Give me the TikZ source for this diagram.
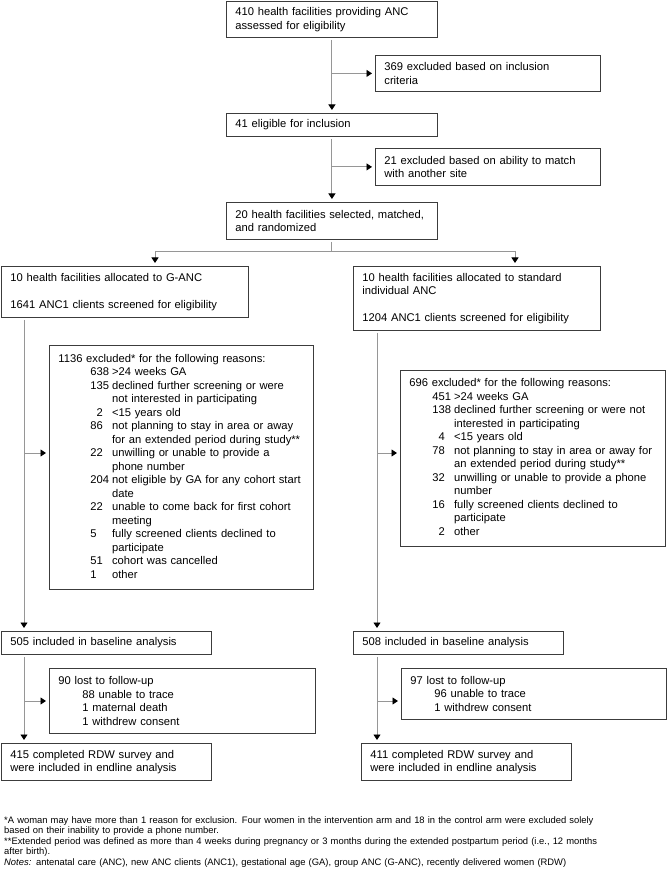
\documentclass[tikz,border=0pt]{standalone}
\usepackage{fontspec}
\setmainfont{Liberation Sans}
\usetikzlibrary{arrows.meta,calc}
\definecolor{BoxLine}{RGB}{60,60,60}
\definecolor{LinkGray}{RGB}{150,150,150}
\tikzset{
  box/.style 2 args={draw=BoxLine,line width=.8pt,anchor=north west,align=left,font=\fontsize{11.2}{13.5}\selectfont,inner xsep=9pt,inner ysep=1pt,minimum width=#1pt,text width=#1pt-18pt,minimum height=#2pt},
  wire/.style={draw=LinkGray,line width=.9pt},
  feed/.style={wire,-{Triangle[length=5.5pt,width=7pt,color=black]},shorten >=3pt},
  note/.style={anchor=north west,align=left,font=\fontsize{9.4}{10.6}\selectfont,inner sep=0pt,text width=664pt}
}
\begin{document}
\begin{tikzpicture}[x=1pt,y=-1pt]
  \useasboundingbox (0,0) rectangle (667,874);
  % facility level
  \node[box={211}{36}] (n410) at (226,1) {410 health facilities providing ANC\\assessed for eligibility};
  \node[box={225}{36}] (n369) at (375,55) {369 excluded based on inclusion\\criteria};
  \node[box={211}{23}] (n41) at (226,113) {41 eligible for inclusion};
  \node[box={225}{37}] (n21) at (375,148) {21 excluded based on ability to match\\with another site};
  \node[box={211}{37}] (n20) at (226,202) {20 health facilities selected, matched,\\and randomized};
  % arms
  \node[box={247}{51}] (nArmL) at (1,266) {10 health facilities allocated to G-ANC\\[13.5pt]1641 ANC1 clients screened for eligibility};
  \node[box={247}{64}] (nArmR) at (353,266) {10 health facilities allocated to standard\\individual ANC\\[13.5pt]1204 ANC1 clients screened for eligibility};
  \node[box={264}{244}] (nExL) at (49,345) {\begin{tabular}{@{\hspace{32pt}}l@{\hspace{3pt}}l@{}}
    \multicolumn{2}{@{}l@{}}{1136 excluded* for the following reasons:}\\
    638 & >24 weeks GA\\
    135 & declined further screening or were\\
        & not interested in participating\\
    \phantom{0}2 & <15 years old\\
    86 & not planning to stay in area or away\\
       & for an extended period during study**\\
    22 & unwilling or unable to provide a\\
       & phone number\\
    204 & not eligible by GA for any cohort start\\
        & date\\
    22 & unable to come back for first cohort\\
       & meeting\\
    5 & fully screened clients declined to\\
      & participate\\
    51 & cohort was cancelled\\
    1 & other
  \end{tabular}};
  \node[box={265}{176}] (nExR) at (400,370) {\begin{tabular}{@{\hspace{23pt}}l@{\hspace{3pt}}l@{}}
    \multicolumn{2}{@{}l@{}}{696 excluded* for the following reasons:}\\
    451 & >24 weeks GA\\
    138 & declined further screening or were not\\
        & interested in participating\\
    \phantom{0}4 & <15 years old\\
    78 & not planning to stay in area or away for\\
       & an extended period during study**\\
    32 & unwilling or unable to provide a phone\\
       & number\\
    16 & fully screened clients declined to\\
       & participate\\
    \phantom{0}2 & other
  \end{tabular}};
  % analysis
  \node[box={210}{23}] (nBaseL) at (1,631) {505 included in baseline analysis};
  \node[box={210}{23}] (nBaseR) at (353,631) {508 included in baseline analysis};
  \node[box={266}{65}] (nLostL) at (49,668) {90 lost to follow-up\\\hspace*{24pt}88 unable to trace\\\hspace*{24pt}1 maternal death\\\hspace*{24pt}1 withdrew consent};
  \node[box={265}{51}] (nLostR) at (401,668) {97 lost to follow-up\\\hspace*{24pt}96 unable to trace\\\hspace*{24pt}1 withdrew consent};
  \node[box={210}{37}] (nEndL) at (1,743) {415 completed RDW survey and\\were included in endline analysis};
  \node[box={210}{37}] (nEndR) at (361,743) {411 completed RDW survey and\\were included in endline analysis};
  \node[note] (notes) at (4,816) {*A woman may have more than 1 reason for exclusion. Four women in the intervention arm and 18 in the control arm were excluded solely\\based on their inability to provide a phone number.\\{}**Extended period was defined as more than 4 weeks during pregnancy or 3 months during the extended postpartum period (i.e., 12 months\\after birth).\\\textit{Notes:} antenatal care (ANC), new ANC clients (ANC1), gestational age (GA), group ANC (G-ANC), recently delivered women (RDW)};
  % connectors
  \coordinate (b1) at (n410.south |- n369.west);
  \coordinate (b2) at (n41.south |- n21.west);
  \coordinate (jL) at (155,251);
  \coordinate (jR) at (515,251);
  \coordinate (bL) at (24,453);
  \coordinate (bR) at (377,453);
  \coordinate (cL) at (24,701);
  \coordinate (cR) at (377,701);
  \draw[feed,shorten <=2pt] (n410) -- (n41);
  \draw[feed,shorten <=2pt] (n41) -- (n20);
  \draw[feed] (b1) -- (n369);
  \draw[feed] (b2) -- (n21);
  \draw[wire,shorten <=2pt] (n20.south) -- (n20.south |- jL);
  \draw[wire] (jL) -- (jR);
  \draw[feed] (jL) -- (jL |- nArmL.north);
  \draw[feed] (jR) -- (jR |- nArmR.north);
  \foreach \s in {L,R}{
    \draw[feed,shorten <=2pt] (nArm\s.south -| b\s) -- (nBase\s.north -| b\s);
    \draw[feed] (b\s) -- (nEx\s.west |- b\s);
    \draw[feed,shorten <=2pt] (nBase\s.south -| c\s) -- (nEnd\s.north -| c\s);
    \draw[feed] (c\s) -- (nLost\s.west |- c\s);
  }
\end{tikzpicture}
\end{document}
